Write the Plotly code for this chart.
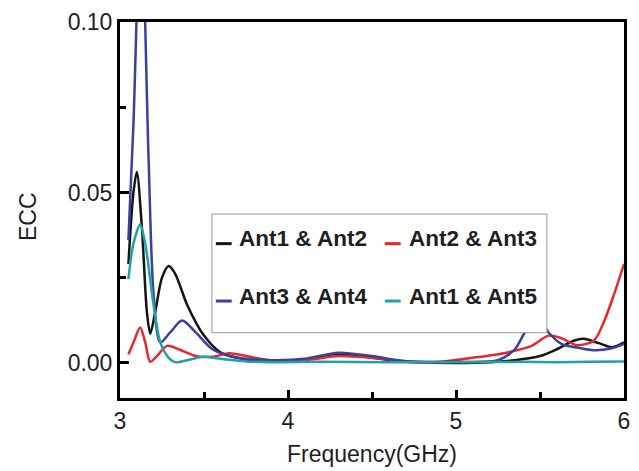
import plotly.graph_objects as go

# ---- data ----
freq_12 = [3.05, 3.08, 3.10, 3.13, 3.16, 3.18, 3.21, 3.25, 3.29, 3.33, 3.40, 3.50, 3.60, 3.75, 3.90,
           4.10, 4.30, 4.50, 4.70, 5.00, 5.20, 5.35, 5.50, 5.60, 5.70, 5.76, 5.85, 5.93, 6.00]
ecc_12 = [0.029, 0.050, 0.056, 0.040, 0.015, 0.0086, 0.015, 0.025, 0.0284, 0.026, 0.017, 0.008, 0.003, 0.001, 0.0005,
          0.001, 0.0027, 0.0015, 0.0003, 0.0, 0.0002, 0.0008, 0.002, 0.004, 0.0065, 0.0071, 0.0058, 0.0046, 0.006]

freq_23 = [3.05, 3.08, 3.12, 3.15, 3.18, 3.22, 3.28, 3.35, 3.45, 3.55, 3.65, 3.75, 3.90,
           4.10, 4.30, 4.50, 4.70, 4.90, 5.10, 5.30, 5.45, 5.55, 5.63, 5.72, 5.82, 5.88, 5.94, 6.00]
ecc_23 = [0.0025, 0.006, 0.0104, 0.006, 0.0003, 0.002, 0.005, 0.004, 0.002, 0.0018, 0.0028, 0.002, 0.0007,
          0.0008, 0.002, 0.0015, 0.0005, 0.0003, 0.0015, 0.003, 0.005, 0.008, 0.0072, 0.0052, 0.0065, 0.012, 0.020, 0.029]

freq_34 = [3.05, 3.08, 3.125, 3.17, 3.20, 3.24, 3.30, 3.37, 3.45, 3.55, 3.70, 3.90, 4.10, 4.30, 4.50, 4.70,
           5.00, 5.25, 5.35, 5.41, 5.48, 5.55, 5.63, 5.72, 5.82, 5.92, 6.00]
ecc_34 = [0.036, 0.070, 0.135, 0.060, 0.020, 0.006, 0.009, 0.0124, 0.009, 0.004, 0.0015, 0.0008, 0.0012, 0.003, 0.002, 0.0005,
          0.0003, 0.0008, 0.004, 0.009, 0.014, 0.009, 0.0055, 0.0045, 0.0037, 0.0042, 0.0056]

freq_15 = [3.05, 3.08, 3.12, 3.15, 3.20, 3.24, 3.29, 3.33, 3.40, 3.50, 3.60, 3.80, 4.20, 4.60, 5.00, 5.40, 5.60, 5.80, 6.00]
ecc_15 = [0.0246, 0.035, 0.0406, 0.035, 0.017, 0.006, 0.0015, 0.0002, 0.0008, 0.0018, 0.0012, 0.0003, 0.0003, 0.0002,
          0.0002, 0.0003, 0.0002, 0.0003, 0.0004]

series = [
    ("Ant1 & Ant2", freq_12, ecc_12, "#141414"),
    ("Ant2 & Ant3", freq_23, ecc_23, "#e8262b"),
    ("Ant3 & Ant4", freq_34, ecc_34, "#3b3f9e"),
    ("Ant1 & Ant5", freq_15, ecc_15, "#1fa3a3"),
]

x_ticks = [3, 4, 5, 6]
y_ticks = [0.0, 0.05, 0.10]
y_ticktext = ["0.00", "0.05", "0.10"]

W, H = 639, 471
L, R, T, B = 120, 9, 18, 73

fig = go.Figure()
for name, fx, fy, col in series:
    fig.add_trace(go.Scatter(x=fx, y=fy, mode="lines", name=name,
                             line=dict(color=col, width=2.5, shape="spline", smoothing=0.8),
                             showlegend=False))

def px_x(p):
    return (p - L) / (W - L - R)

def px_y(p):
    return (H - B - p) / (H - T - B)

FAM = "Liberation Sans, Arial, sans-serif"
font_main = dict(family=FAM, size=23, color="#1e1e1e")

# manual legend box (matching the reference's compact legend)
shapes = [dict(type="rect", xref="paper", yref="paper",
               x0=px_x(213), x1=px_x(552), y0=px_y(332), y1=px_y(212),
               line=dict(color="#9a9a9a", width=1), fillcolor="white", layer="above")]
annotations = []
legend_pos = [(217, 238, 237), (388, 410, 237), (217, 238, 295), (388, 410, 295)]
for (name, _, _, col), (lx, tx, ty) in zip(series, legend_pos):
    shapes.append(dict(type="line", xref="paper", yref="paper",
                       x0=px_x(lx), x1=px_x(lx + 16), y0=px_y(ty + 5), y1=px_y(ty + 5),
                       line=dict(color=col, width=3), layer="above"))
    annotations.append(dict(text=name, xref="paper", yref="paper", x=px_x(tx), y=px_y(ty),
                            xanchor="left", yanchor="middle", showarrow=False,
                            font=dict(family=FAM, size=22.5, color="#1e1e1e", weight="bold")))

annotations.append(dict(text="ECC", xref="paper", yref="paper", x=px_x(27), y=px_y(215),
                        xanchor="center", yanchor="middle", textangle=-90, showarrow=False,
                        font=font_main))
annotations.append(dict(text="Frequency(GHz)", xref="paper", yref="paper", x=px_x(375), y=px_y(455),
                        xanchor="center", yanchor="middle", showarrow=False, font=font_main))

fig.update_layout(
    width=W, height=H,
    margin=dict(l=L, r=R, t=T, b=B),
    paper_bgcolor="white", plot_bgcolor="white",
    shapes=shapes, annotations=annotations,
    xaxis=dict(range=[3, 6], tickvals=x_ticks, ticktext=[str(v) for v in x_ticks],
               ticks="inside", ticklen=8, tickwidth=2.5, tickcolor="black",
               minor=dict(tickvals=[3.5, 4.5, 5.5], ticks="inside", ticklen=6, tickwidth=2.5, tickcolor="black"),
               showline=True, linecolor="black", linewidth=3, mirror=True,
               showgrid=False, zeroline=False, tickfont=font_main, ticklabelstandoff=0),
    yaxis=dict(range=[-0.0103, 0.1], tickvals=y_ticks, ticktext=y_ticktext,
               ticks="inside", ticklen=9, tickwidth=2.5, tickcolor="black",
               minor=dict(tickvals=[0.025, 0.075], ticks="inside", ticklen=6, tickwidth=2.5, tickcolor="black"),
               showline=True, linecolor="black", linewidth=3, mirror=True,
               showgrid=False, zeroline=False, tickfont=font_main),
)

fig.write_html("out.html")
